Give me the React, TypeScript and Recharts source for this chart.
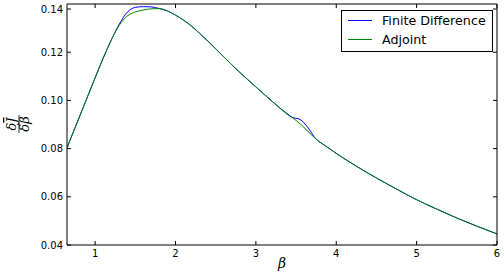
import React from "react";
import { LineChart, Line, XAxis, YAxis } from "recharts";

const betaValues = [0.65, 0.7, 0.8, 0.9, 1.0, 1.1, 1.2, 1.3, 1.4, 1.5, 1.6, 1.7, 1.8, 1.9, 2.0, 2.1, 2.2, 2.3, 2.4, 2.5, 2.6, 2.7, 2.8, 2.9, 3.0, 3.1, 3.2, 3.3, 3.45, 3.55, 3.65, 3.75, 3.85, 4.0, 4.25, 4.5, 4.75, 5.0, 5.25, 5.5, 5.75, 6.0];
const finiteDifference = [0.0803, 0.0845, 0.0928, 0.1011, 0.1094, 0.1175, 0.125, 0.1316, 0.1366, 0.1386, 0.1389, 0.1388, 0.1381, 0.1371, 0.1354, 0.1333, 0.1308, 0.1278, 0.1247, 0.1214, 0.1181, 0.1148, 0.1116, 0.1086, 0.1056, 0.1026, 0.0997, 0.0968, 0.093, 0.0921, 0.0886, 0.0839, 0.0815, 0.078, 0.0727, 0.0678, 0.0632, 0.0588, 0.0549, 0.0512, 0.0478, 0.0446];
const adjoint = [0.0803, 0.0845, 0.0928, 0.1011, 0.1094, 0.1175, 0.125, 0.1312, 0.135, 0.1367, 0.1375, 0.138, 0.1381, 0.1371, 0.1354, 0.1333, 0.1308, 0.1278, 0.1247, 0.1214, 0.1181, 0.1148, 0.1116, 0.1086, 0.1056, 0.1026, 0.0997, 0.0968, 0.093, 0.0903, 0.0871, 0.0839, 0.0815, 0.078, 0.0727, 0.0678, 0.0632, 0.0588, 0.0549, 0.0512, 0.0478, 0.0446];
const xTicks = [1, 2, 3, 4, 5, 6];
const yTicks = [0.04, 0.06, 0.08, 0.1, 0.12, 0.14];
const seriesNames = ["Finite Difference", "Adjoint"];
const seriesColors = ["#0000ff", "#008000"];

const data = betaValues.map((b, i) => ({ beta: b, fd: finiteDifference[i], adj: adjoint[i] }));

const FONT = "DejaVu Sans, sans-serif";
const TICK = 4;

const BottomTick = (props: any) => {
  const { x, y, payload } = props;
  return (
    <g>
      <line x1={x} y1={y} x2={x} y2={y - TICK} stroke="#000" strokeWidth={1} />
      <text x={x} y={y + 12} textAnchor="middle" fontFamily={FONT} fontSize={10} fill="#000">
        {payload.value}
      </text>
    </g>
  );
};
const TopTick = (props: any) => {
  const { x, y } = props;
  return <line x1={x} y1={y} x2={x} y2={y + TICK} stroke="#000" strokeWidth={1} />;
};
const LeftTick = (props: any) => {
  const { x, y, payload } = props;
  return (
    <g>
      <line x1={x} y1={y} x2={x + TICK} y2={y} stroke="#000" strokeWidth={1} />
      <text x={x - 4} y={y} dy="0.35em" textAnchor="end" fontFamily={FONT} fontSize={10} fill="#000">
        {Number(payload.value).toFixed(2)}
      </text>
    </g>
  );
};
const RightTick = (props: any) => {
  const { x, y } = props;
  return <line x1={x} y1={y} x2={x - TICK} y2={y} stroke="#000" strokeWidth={1} />;
};

export default function App() {
  return (
    <div style={{ position: "absolute", left: 0, top: 0, width: 504, height: 276, background: "#fff" }}>
      <LineChart width={504} height={276} data={data} margin={{ top: 3, right: 6, bottom: 30, left: 66 }}>
        <XAxis
          xAxisId="b"
          dataKey="beta"
          type="number"
          domain={[0.65, 6]}
          ticks={xTicks}
          allowDataOverflow
          height={1}
          tickSize={0}
          tickMargin={0}
          tick={<BottomTick />}
          axisLine={{ stroke: "#000", strokeWidth: 1 }}
          tickLine={false}
        />
        <XAxis
          xAxisId="t"
          orientation="top"
          dataKey="beta"
          type="number"
          domain={[0.65, 6]}
          ticks={xTicks}
          allowDataOverflow
          height={1}
          tickSize={0}
          tickMargin={0}
          tick={<TopTick />}
          axisLine={{ stroke: "#000", strokeWidth: 1 }}
          tickLine={false}
        />
        <YAxis
          yAxisId="l"
          type="number"
          domain={[0.04, 0.14]}
          ticks={yTicks}
          allowDataOverflow
          width={1}
          tickSize={0}
          tickMargin={0}
          tick={<LeftTick />}
          axisLine={{ stroke: "#000", strokeWidth: 1 }}
          tickLine={false}
        />
        <YAxis
          yAxisId="r"
          orientation="right"
          type="number"
          domain={[0.04, 0.14]}
          ticks={yTicks}
          allowDataOverflow
          width={1}
          tickSize={0}
          tickMargin={0}
          tick={<RightTick />}
          axisLine={{ stroke: "#000", strokeWidth: 1 }}
          tickLine={false}
        />
        <Line xAxisId="b" yAxisId="l" type="monotone" dataKey="fd" name={seriesNames[0]} stroke={seriesColors[0]} strokeWidth={1} dot={false} isAnimationActive={false} />
        <Line xAxisId="b" yAxisId="l" type="monotone" dataKey="adj" name={seriesNames[1]} stroke={seriesColors[1]} strokeWidth={1} dot={false} isAnimationActive={false} />
        <g>
          <rect x={341.5} y={10.5} width={151} height={41} fill="#fff" stroke="#000" strokeWidth={1} />
          {seriesNames.map((n, i) => (
            <g key={n}>
              <line x1={348} x2={372} y1={i === 0 ? 20.5 : 39.5} y2={i === 0 ? 20.5 : 39.5} stroke={seriesColors[i]} strokeWidth={1} />
              <text x={382} y={i === 0 ? 25 : 44} fontFamily={FONT} fontSize={12.7} fill="#000">
                {n}
              </text>
            </g>
          ))}
        </g>
        <text x={282} y={268} textAnchor="middle" fontFamily="DejaVu Serif, serif" fontStyle="italic" fontSize={14} fill="#000">
          β
        </text>
        <g transform="translate(19, 124) rotate(-90)">
          <text x={0} y={-3} textAnchor="middle" fontFamily="DejaVu Serif, serif" fontStyle="italic" fontSize={13} fill="#000">
            δ<tspan textDecoration="overline">J</tspan>
          </text>
          <line x1={-9} y1={0} x2={9} y2={0} stroke="#000" strokeWidth={0.8} />
          <text x={0} y={10} textAnchor="middle" fontFamily="DejaVu Serif, serif" fontStyle="italic" fontSize={13} fill="#000">
            δβ
          </text>
        </g>
      </LineChart>
    </div>
  );
}
